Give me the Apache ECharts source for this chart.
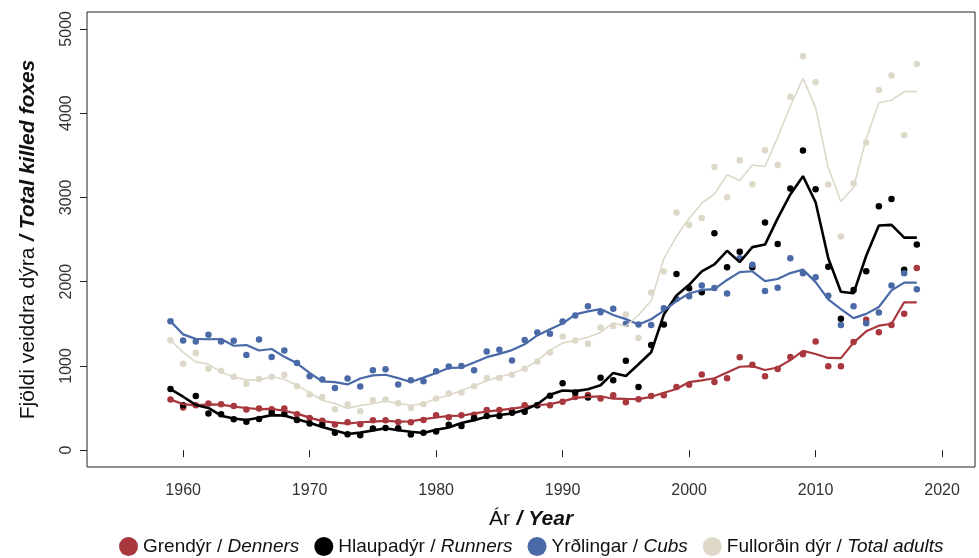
<!DOCTYPE html>
<html>
<head>
<meta charset="utf-8">
<script src="https://cdn.jsdelivr.net/npm/echarts@6/dist/echarts.min.js"></script>
<style>
  html, body { margin: 0; padding: 0; background: #fff; }
  #chart { width: 979px; height: 558px; }
</style>
</head>
<body>
<div id="chart"></div>
<script>
// Fox hunting statistics, Iceland 1959–2018
const years = [
  1959, 1960, 1961, 1962, 1963, 1964, 1965, 1966, 1967, 1968,
  1969, 1970, 1971, 1972, 1973, 1974, 1975, 1976, 1977, 1978,
  1979, 1980, 1981, 1982, 1983, 1984, 1985, 1986, 1987, 1988,
  1989, 1990, 1991, 1992, 1993, 1994, 1995, 1996, 1997, 1998,
  1999, 2000, 2001, 2002, 2003, 2004, 2005, 2006, 2007, 2008,
  2009, 2010, 2011, 2012, 2013, 2014, 2015, 2016, 2017, 2018
];

// Grendýr / Denners
const denners = [
  600, 505, 533, 553, 544, 525, 482, 493, 485, 493,
  426, 383, 348, 304, 331, 308, 355, 355, 333, 331,
  358, 414, 390, 414, 420, 476, 476, 472, 533, 533,
  533, 573, 632, 655, 612, 651, 568, 604, 644, 651,
  748, 777, 899, 809, 852, 1103, 1014, 876, 963, 1105,
  1138, 1290, 996, 996, 1283, 1548, 1399, 1484, 1618, 2162
];

// Hlaupadýr / Runners
const runners = [
  725, 533, 644, 434, 426, 367, 336, 371, 446, 430,
  358, 316, 304, 206, 189, 178, 257, 263, 261, 186,
  206, 220, 300, 286, 378, 405, 404, 445, 456, 533,
  645, 795, 683, 624, 859, 829, 1062, 748, 1247, 1491,
  2090, 1922, 1874, 2573, 2170, 2355, 2170, 2703, 2446, 3105,
  3555, 3095, 2178, 1559, 1902, 2123, 2896, 2982, 2142, 2442
];

// Yrðlingar / Cubs
const cubs = [
  1530, 1302, 1290, 1369, 1290, 1298, 1129, 1314, 1105, 1183,
  1034, 876, 837, 738, 849, 754, 947, 959, 778, 829,
  819, 935, 994, 999, 947, 1172, 1192, 1065, 1306, 1397,
  1381, 1527, 1598, 1707, 1638, 1677, 1499, 1490, 1486, 1685,
  1795, 1827, 1953, 1924, 1858, 2278, 2201, 1890, 1927, 2277,
  2099, 2052, 1831, 1484, 1709, 1507, 1635, 1955, 2099, 1910
];

// Fullorðin dýr / Total adults
const adults = [
  1305, 1024, 1154, 965, 943, 870, 787, 845, 870, 896,
  758, 659, 632, 485, 541, 462, 592, 600, 556, 501,
  544, 612, 671, 683, 757, 857, 857, 896, 967, 1053,
  1160, 1349, 1302, 1263, 1456, 1472, 1610, 1330, 1872, 2120,
  2821, 2673, 2756, 3361, 3002, 3440, 3156, 3559, 3385, 4194,
  4675, 4367, 3152, 2535, 3164, 3651, 4275, 4446, 3736, 4584
];

const yTicks = [0, 1000, 2000, 3000, 4000, 5000];
const xTicks = [1960, 1970, 1980, 1990, 2000, 2010, 2020];

const groups = [
  { name: 'Grendýr / Denners',            values: denners, color: '#a9383e', width: 2.2 },
  { name: 'Hlaupadýr / Runners',          values: runners, color: '#000000', width: 2.6 },
  { name: 'Yrðlingar / Cubs',             values: cubs,    color: '#4a69a7', width: 2.2 },
  { name: 'Fullorðin dýr / Total adults', values: adults,  color: '#ddd8c8', width: 1.6 }
];

// Centred 3-year running mean; first year kept as is, last year repeats the previous mean
function runningMean(v) {
  const n = v.length;
  const out = v.map((x, i) => (i === 0 || i === n - 1) ? x : (v[i - 1] + v[i] + v[i + 1]) / 3);
  out[n - 1] = out[n - 2];
  return out;
}

const FONT = 'Liberation Sans, Arial, Helvetica, sans-serif';

const series = [];
groups.forEach(g => {
  const trend = runningMean(g.values);
  series.push({
    name: g.name + ' (meðaltal)',
    type: 'line',
    data: years.map((y, i) => [y, trend[i]]),
    showSymbol: false,
    symbol: 'none',
    lineStyle: { color: g.color, width: g.width },
    itemStyle: { color: g.color },
    silent: true,
    animation: false
  });
  series.push({
    name: g.name,
    type: 'scatter',
    data: years.map((y, i) => [y, g.values[i]]),
    symbol: 'circle',
    symbolSize: 6.5,
    itemStyle: { color: g.color, opacity: 1 },
    animation: false
  });
});

const plain = v => String(Math.round(v));

const chart = echarts.init(document.getElementById('chart'), null, { renderer: 'canvas' });
chart.setOption({
  backgroundColor: '#ffffff',
  animation: false,
  textStyle: { fontFamily: FONT },
  grid: {
    left: 87, right: 4, top: 12, bottom: 91,
    show: true, borderColor: '#222', borderWidth: 1, backgroundColor: 'transparent'
  },
  xAxis: {
    type: 'value',
    min: 1952.4,
    max: 2022.6,
    name: '{a|Ár}  {b|/ Year}',
    nameLocation: 'middle',
    nameGap: 42,
    nameTextStyle: {
      rich: {
        a: { fontFamily: FONT, fontSize: 21, color: '#111' },
        b: { fontFamily: FONT, fontSize: 21, color: '#111', fontStyle: 'italic', fontWeight: 'bold' }
      }
    },
    axisLine: { show: false },
    axisTick: { show: true, customValues: xTicks, length: 7, lineStyle: { color: '#222' } },
    axisLabel: { customValues: xTicks, formatter: plain, fontFamily: FONT, fontSize: 16, color: '#333', margin: 16 },
    splitLine: { show: false }
  },
  yAxis: {
    type: 'value',
    min: -200,
    max: 5200,
    name: '{a|Fjöldi veiddra dýra}  {b|/ Total killed foxes}',
    nameLocation: 'middle',
    nameGap: 48,
    nameRotate: 90,
    nameTextStyle: {
      rich: {
        a: { fontFamily: FONT, fontSize: 21, color: '#111' },
        b: { fontFamily: FONT, fontSize: 21, color: '#111', fontStyle: 'italic', fontWeight: 'bold' }
      }
    },
    axisLine: { show: false },
    axisTick: { show: true, customValues: yTicks, length: 7, lineStyle: { color: '#222' } },
    axisLabel: { customValues: yTicks, formatter: plain, rotate: 90, fontFamily: FONT, fontSize: 16, color: '#333', margin: 12 },
    splitLine: { show: false }
  },
  legend: {
    data: groups.map(g => ({ name: g.name, icon: 'circle' })),
    bottom: 2,
    left: 119,
    padding: 0,
    itemWidth: 19,
    itemHeight: 19,
    itemGap: 15,
    formatter: name => {
      const parts = name.split(' / ');
      return '{n|' + parts[0] + ' / }{e|' + parts[1] + '}';
    },
    textStyle: {
      fontFamily: FONT,
      fontSize: 19,
      color: '#111',
      rich: {
        n: { fontFamily: FONT, fontSize: 19, color: '#111' },
        e: { fontFamily: FONT, fontSize: 19, color: '#111', fontStyle: 'italic' }
      }
    }
  },
  series: series
});
</script>
</body>
</html>
